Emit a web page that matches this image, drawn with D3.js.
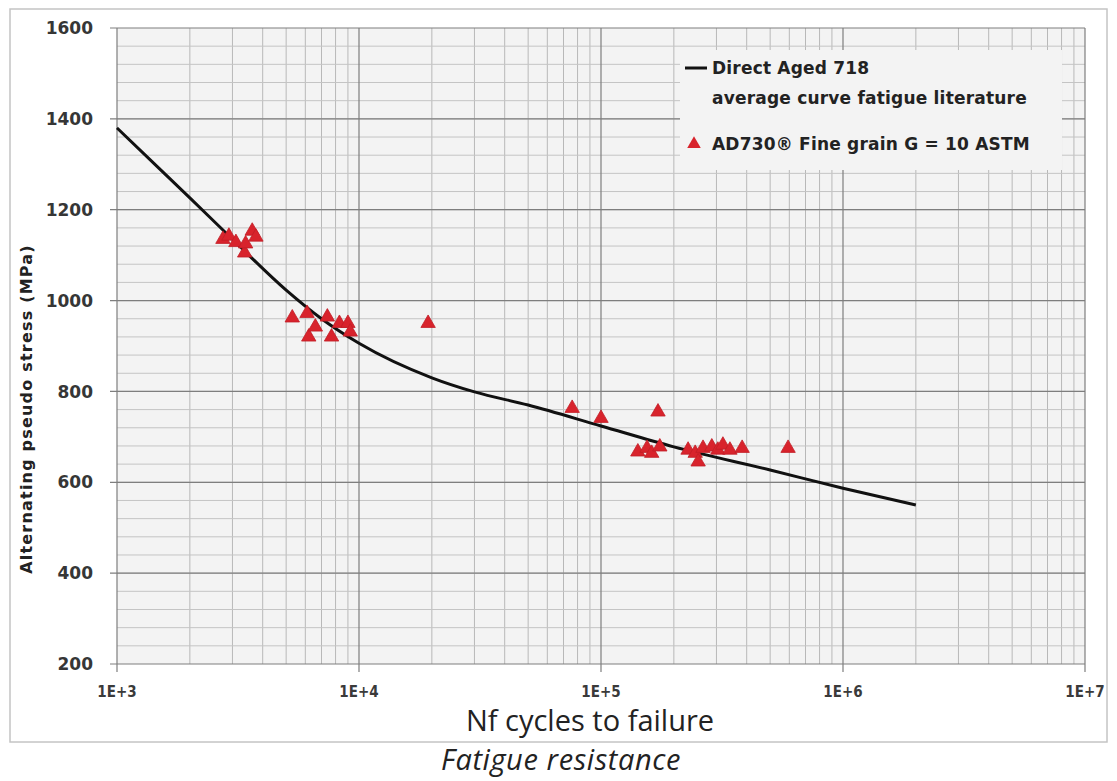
<!DOCTYPE html>
<html>
<head>
<meta charset="utf-8">
<script src="https://cdn.jsdelivr.net/npm/d3@7"></script>
<style>
  body { margin: 0; background: #fff; }
  svg { display: block; }
</style>
</head>
<body>
<svg width="1117" height="781"></svg>
<script>
// literature average curve (Direct Aged 718)
var curveN = [1000, 1500, 2000, 3000, 5000, 7000, 10000, 20000, 30000, 50000, 100000, 200000, 500000, 1000000, 2000000];
var curveS = [1380, 1290, 1226, 1135, 1023, 960, 906, 830, 799, 770, 724, 678, 627, 587, 550];

// AD730 fine grain test results
var testN = [2740, 2900, 3100, 3370, 3400, 3620, 3750,
             5300, 6100, 6200, 6600, 7400, 7700, 8300, 9000, 9200, 19300,
             76000, 100000, 172000,
             142000, 155000, 162000, 175000, 229000, 245000, 252000, 264000, 287000, 304000, 319000, 341000, 383000, 593000];
var testS = [1135, 1142, 1128, 1105, 1125, 1153, 1140,
             962, 972, 920, 942, 964, 920, 950, 950, 931, 950,
             763, 741, 755,
             667, 675, 664, 678, 671, 664, 645, 675, 678, 671, 682, 671, 675, 675];

var yTicks = [200, 400, 600, 800, 1000, 1200, 1400, 1600];
var xTicks = [1e3, 1e4, 1e5, 1e6, 1e7];
var xTickLabels = ["1E+3", "1E+4", "1E+5", "1E+6", "1E+7"];

var svg = d3.select("svg"),
    plot = {left: 117, right: 1085, top: 28, bottom: 664};

var x = d3.scaleLog().domain([1e3, 1e7]).range([plot.left, plot.right]),
    y = d3.scaleLinear().domain([200, 1600]).range([plot.bottom, plot.top]);

// outer frame
svg.append("rect")
    .attr("x", 10).attr("y", 9).attr("width", 1097).attr("height", 733)
    .attr("fill", "#fff").attr("stroke", "#c4c4c4").attr("stroke-width", 1.5);

// plot background
svg.append("rect")
    .attr("x", plot.left).attr("y", plot.top)
    .attr("width", plot.right - plot.left).attr("height", plot.bottom - plot.top)
    .attr("fill", "#f3f3f3");

var grid = svg.append("g");

// minor grid
var minorX = [];
[1e3, 1e4, 1e5, 1e6].forEach(function(d) {
  for (var k = 2; k <= 9; k++) minorX.push(d * k);
});
grid.selectAll(".vminor").data(minorX).enter().append("line")
    .attr("x1", function(d) { return x(d); }).attr("x2", function(d) { return x(d); })
    .attr("y1", plot.top).attr("y2", plot.bottom)
    .attr("stroke", "#b8b8b8").attr("stroke-width", 1);

grid.selectAll(".hminor").data(d3.range(240, 1600, 40)).enter().append("line")
    .attr("x1", plot.left).attr("x2", plot.right)
    .attr("y1", function(d) { return y(d); }).attr("y2", function(d) { return y(d); })
    .attr("stroke", "#c4c4c4").attr("stroke-width", 1);

// major grid
grid.selectAll(".vmajor").data(xTicks).enter().append("line")
    .attr("x1", function(d) { return x(d); }).attr("x2", function(d) { return x(d); })
    .attr("y1", plot.top).attr("y2", plot.bottom + 8)
    .attr("stroke", "#7e7e7e").attr("stroke-width", 1.2);

grid.selectAll(".hmajor").data(yTicks).enter().append("line")
    .attr("x1", plot.left - 7).attr("x2", plot.right)
    .attr("y1", function(d) { return y(d); }).attr("y2", function(d) { return y(d); })
    .attr("stroke", "#7e7e7e").attr("stroke-width", 1.2);

// legend box covers the grid
svg.append("rect")
    .attr("x", 680).attr("y", 50).attr("width", 382).attr("height", 120)
    .attr("fill", "#f3f3f3");

// axes labels
svg.append("g").selectAll("text").data(yTicks).enter().append("text")
    .attr("x", 93).attr("y", function(d) { return y(d); })
    .attr("dy", "0.36em")
    .attr("text-anchor", "end")
    .attr("font-family", "DejaVu Sans").attr("font-weight", "bold")
    .attr("font-size", 17).attr("fill", "#363636")
    .text(function(d) { return d; });

svg.append("g").selectAll("text").data(xTicks).enter().append("text")
    .attr("x", function(d) { return x(d); }).attr("y", 697)
    .attr("text-anchor", "middle")
    .attr("font-family", "DejaVu Sans Condensed, DejaVu Sans").attr("font-weight", "bold")
    .attr("font-size", 15).attr("fill", "#3a3a3a")
    .text(function(d, i) { return xTickLabels[i]; });

svg.append("text")
    .attr("transform", "translate(32,409) rotate(-90)")
    .attr("text-anchor", "middle")
    .attr("font-family", "DejaVu Sans").attr("font-weight", "bold")
    .attr("font-size", 16).attr("letter-spacing", 1.2).attr("fill", "#222")
    .text("Alternating pseudo stress (MPa)");

svg.append("text")
    .attr("x", 590).attr("y", 731)
    .attr("text-anchor", "middle")
    .attr("font-family", "Open Sans").attr("font-size", 29).attr("fill", "#222")
    .text("Nf cycles to failure");

svg.append("text")
    .attr("x", 561).attr("y", 770)
    .attr("text-anchor", "middle")
    .attr("font-family", "Open Sans").attr("font-style", "italic")
    .attr("font-size", 29).attr("letter-spacing", 0.6).attr("fill", "#222")
    .text("Fatigue resistance");

// curve
var line = d3.line()
    .x(function(d) { return x(d[0]); })
    .y(function(d) { return y(d[1]); })
    .curve(d3.curveMonotoneX);

svg.append("path")
    .datum(d3.zip(curveN, curveS))
    .attr("d", line)
    .attr("fill", "none").attr("stroke", "#111").attr("stroke-width", 3);

// test points
var tri = d3.symbol().type(d3.symbolTriangle).size(90);
svg.append("g").selectAll("path").data(d3.zip(testN, testS)).enter().append("path")
    .attr("d", tri)
    .attr("transform", function(d) { return "translate(" + x(d[0]) + "," + y(d[1]) + ")"; })
    .attr("fill", "#d8232c").attr("stroke", "#c21d26").attr("stroke-width", 0.8);

// legend
var legend = svg.append("g")
    .attr("font-family", "DejaVu Sans").attr("font-weight", "bold")
    .attr("font-size", 17).attr("letter-spacing", 0.2).attr("fill", "#222");

legend.append("line")
    .attr("x1", 685).attr("x2", 707).attr("y1", 68).attr("y2", 68)
    .attr("stroke", "#111").attr("stroke-width", 3);
legend.append("text").attr("x", 712).attr("y", 74).text("Direct Aged 718");
legend.append("text").attr("x", 712).attr("y", 104).text("average curve fatigue literature");
legend.append("path")
    .attr("d", d3.symbol().type(d3.symbolTriangle).size(80))
    .attr("transform", "translate(694,144)")
    .attr("fill", "#d8232c");
legend.append("text").attr("x", 712).attr("y", 150).text("AD730\u00ae Fine grain G = 10 ASTM");
</script>
</body>
</html>
